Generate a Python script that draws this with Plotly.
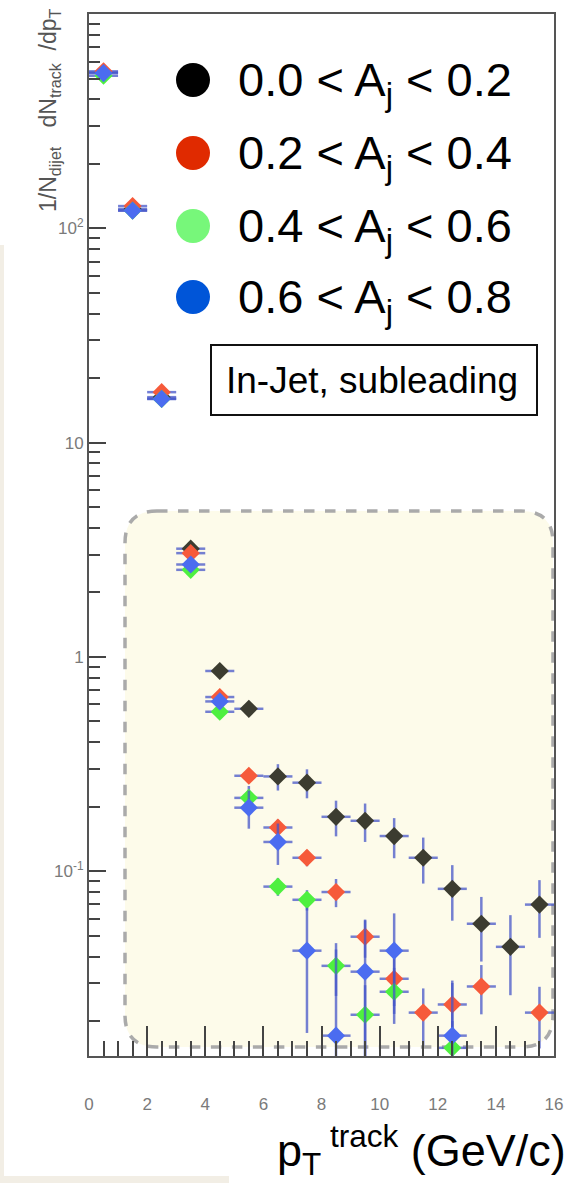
import plotly.graph_objects as go

# ---------------- data ----------------
pt_centers = [0.5, 1.5, 2.5, 3.5, 4.5, 5.5, 6.5, 7.5, 8.5, 9.5, 10.5, 11.5, 12.5, 13.5, 14.5, 15.5]
pt_halfwidth = [0.5] * 16

aj_00_02 = [533, 123, 16.3, 3.2, 0.86, 0.573, 0.277, 0.259, 0.1795, 0.172, 0.146, 0.1156, 0.0828, 0.0569, 0.0444, 0.0699]
aj_00_02_err = [4, 1.5, 0.3, 0.08, 0.03, 0.02, 0.039, 0.04, 0.034, 0.035, 0.031, 0.028, 0.024, 0.019, 0.018, 0.021]

aj_02_04 = [540, 127, 17.2, 3.05, 0.65, 0.279, 0.160, 0.1156, 0.080, 0.0495, 0.0315, 0.0219, 0.0239, 0.029, None, 0.0219]
aj_02_04_err = [4, 1.5, 0.3, 0.08, 0.03, 0.02, 0.014, 0.01, 0.012, 0.01, 0.008, 0.0065, 0.007, 0.0075, 0, 0.007]

aj_04_06 = [515, 121, 16.0, 2.55, 0.555, 0.22, 0.0848, 0.0736, 0.0362, 0.0214, 0.0274, None, 0.0150, None, None, None]
aj_04_06_err = [4, 1.5, 0.3, 0.08, 0.03, 0.03, 0.008, 0.008, 0.01, 0.008, 0.008, 0, 0.005, 0, 0, 0]

aj_06_08 = [530, 121, 16.0, 2.7, 0.62, 0.198, 0.137, 0.0426, 0.0171, 0.034, 0.0426, None, 0.0171, None, None, None]
aj_06_08_err = [4, 1.5, 0.3, 0.08, 0.04, 0.04, 0.03, 0.025, 0.026, 0.025, 0.021, 0, 0.013, 0, 0, 0]

series_names = ["0.0 &lt; A<sub>j</sub> &lt; 0.2", "0.2 &lt; A<sub>j</sub> &lt; 0.4",
                "0.4 &lt; A<sub>j</sub> &lt; 0.6", "0.6 &lt; A<sub>j</sub> &lt; 0.8"]
marker_colors = ["#3c3c30", "#f65a3a", "#4ef040", "#4b6cf0"]
legend_colors = ["#000000", "#e02a00", "#77f77a", "#0055d8"]

y_tickvals = [0.1, 1, 10, 100]
y_ticktext = ["10<sup>-1</sup>", "1", "10", "10<sup>2</sup>"]
x_tickvals = [0, 2, 4, 6, 8, 10, 12, 14, 16]
x_ticktext = ["0", "2", "4", "6", "8", "10", "12", "14", "16"]
y_minor = [m * 10 ** e for e in (-2, -1, 0, 1, 2) for m in range(2, 10)]

# ---------------- geometry helpers (pixels -> paper) ----------------
W, H = 576, 1183
L, R, T, B = 89, 554, 14, 1056


def px(x):
    return (x - L) / (R - L)


def py(y):
    return (B - y) / (B - T)


fig = go.Figure()

all_y = [aj_00_02, aj_02_04, aj_04_06, aj_06_08]
all_e = [aj_00_02_err, aj_02_04_err, aj_04_06_err, aj_06_08_err]
for yv, ev, col, name in zip(all_y, all_e, marker_colors, series_names):
    fig.add_trace(go.Scatter(
        x=pt_centers, y=yv, mode="markers", name=name, showlegend=False,
        marker=dict(symbol="diamond", size=14, color=col, line=dict(width=0)),
        error_x=dict(type="data", array=pt_halfwidth, color="rgba(70,85,200,0.75)", thickness=2.5, width=0),
        error_y=dict(type="data", array=ev, color="rgba(70,85,200,0.75)", thickness=2.5, width=0),
    ))

shapes = []
# beige slide background pieces
shapes.append(dict(type="rect", xref="paper", yref="paper", x0=px(0), x1=px(4), y0=py(1176), y1=py(245),
                   fillcolor="#f2eee5", line=dict(width=0), layer="below"))
shapes.append(dict(type="rect", xref="paper", yref="paper", x0=px(0), x1=px(229), y0=py(1183), y1=py(1176),
                   fillcolor="#f2eee5", line=dict(width=0), layer="below"))

# rounded dashed highlight box
bx0, bx1, by0, by1, r = 125, 553, 511, 1047, 32


def P(x, y):
    return f"{px(x):.5f},{py(y):.5f}"


path = (f"M {P(bx0 + r, by0)} L {P(bx1 - r, by0)} Q {P(bx1, by0)} {P(bx1, by0 + r)} "
        f"L {P(bx1, by1 - r)} Q {P(bx1, by1)} {P(bx1 - r, by1)} "
        f"L {P(bx0 + r, by1)} Q {P(bx0, by1)} {P(bx0, by1 - r)} "
        f"L {P(bx0, by0 + r)} Q {P(bx0, by0)} {P(bx0 + r, by0)} Z")
shapes.append(dict(type="path", xref="paper", yref="paper", path=path, fillcolor="#fdfbea",
                   line=dict(color="#aaaaaa", width=3.5, dash="dash"), layer="below"))

# legend circles
legend_rows = [80, 153, 226, 297]
for cy, col in zip(legend_rows, legend_colors):
    shapes.append(dict(type="circle", xref="paper", yref="paper",
                       x0=px(193 - 17), x1=px(193 + 17), y0=py(cy + 17), y1=py(cy - 17),
                       fillcolor=col, line=dict(width=0)))

# In-Jet box
shapes.append(dict(type="rect", xref="paper", yref="paper", x0=px(211), x1=px(537), y0=py(415), y1=py(345),
                   fillcolor="rgba(0,0,0,0)", line=dict(color="#111111", width=2)))

annotations = []
for cy, name in zip(legend_rows, series_names):
    annotations.append(dict(xref="paper", yref="paper", x=px(236), y=py(cy + 3), xanchor="left", yanchor="middle",
                            text=name, showarrow=False,
                            font=dict(family="Liberation Sans, Arial, sans-serif", size=47, color="#000000")))
annotations.append(dict(xref="paper", yref="paper", x=px(372), y=py(380), xanchor="center", yanchor="middle",
                        text="In-Jet, subleading", showarrow=False,
                        font=dict(family="Liberation Sans, Arial, sans-serif", size=37, color="#000000")))
annotations.append(dict(xref="paper", yref="paper", x=px(49), y=py(110), xanchor="center", yanchor="middle",
                        textangle=-90, text="1/N<sub>dijet</sub>   dN<sub>track</sub>  /dp<sub>T</sub>",
                        showarrow=False,
                        font=dict(family="Liberation Sans, Arial, sans-serif", size=23, color="#555555")))
annotations.append(dict(xref="paper", yref="paper", x=px(568), y=py(1150), xanchor="right", yanchor="middle",
                        text="p<sub>T</sub><sup> track</sup> (GeV/c)", showarrow=False,
                        font=dict(family="Liberation Sans, Arial, sans-serif", size=45, color="#000000")))

fig.update_layout(
    width=W, height=H,
    margin=dict(l=L, r=W - R, t=T, b=H - B, pad=0),
    paper_bgcolor="white", plot_bgcolor="white",
    shapes=shapes, annotations=annotations, showlegend=False,
)
fig.update_xaxes(
    range=[0, 16], showgrid=False, zeroline=False,
    showline=True, mirror=True, linecolor="#555555", linewidth=2,
    ticks="inside", ticklen=30, tickwidth=2, tickcolor="#444444",
    tickmode="array", tickvals=x_tickvals, ticktext=x_ticktext,
    ticklabelstandoff=32,
    tickfont=dict(family="Liberation Sans, Arial, sans-serif", size=17, color="#7a7a7a"),
    minor=dict(ticks="inside", ticklen=15, tickwidth=2, tickcolor="#444444", dtick=0.5, showgrid=False),
)
fig.update_yaxes(
    type="log", range=[-1.862, 3.0], showgrid=False, zeroline=False,
    showline=True, mirror=True, linecolor="#555555", linewidth=2,
    ticks="inside", ticklen=17, tickwidth=2, tickcolor="#444444",
    tickmode="array", tickvals=y_tickvals, ticktext=y_ticktext,
    tickfont=dict(family="Liberation Sans, Arial, sans-serif", size=17, color="#7a7a7a"),
    minor=dict(ticks="inside", ticklen=11, tickwidth=2, tickcolor="#444444",
               tickmode="array", tickvals=y_minor, showgrid=False),
)

fig.write_html("out.html", config={"displayModeBar": False},
               post_script="document.body.style.margin='0';document.body.style.overflow='hidden';")
